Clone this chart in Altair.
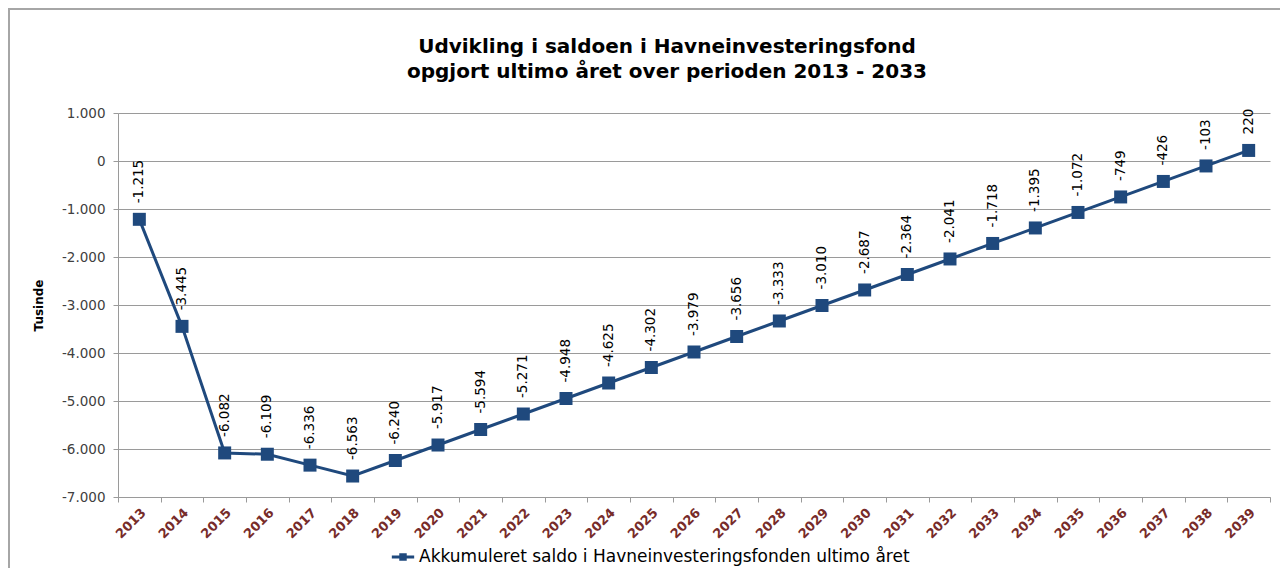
import altair as alt
import pandas as pd

years = list(range(2013, 2040))
values = [-1215, -3445, -6082, -6109, -6336, -6563, -6240, -5917, -5594, -5271,
          -4948, -4625, -4302, -3979, -3656, -3333, -3010, -2687, -2364, -2041,
          -1718, -1395, -1072, -749, -426, -103, 220]
series_name = "Akkumuleret saldo i Havneinvesteringsfonden ultimo året"
title_lines = ["Udvikling i saldoen i Havneinvesteringsfond",
               "opgjort ultimo året over perioden 2013 - 2033"]
y_ticks = list(range(-7000, 1001, 1000))

df = pd.DataFrame({"year": years, "value": values, "series": [series_name] * len(years)})

FONT = "DejaVu Sans"
BLUE = "#1F497D"
GRID = "#9A9A9A"
NUMFMT = "replace(replace(format({v}, ','), ',', '.'), '\u2212', '-')"

edge_ticks = [y - 0.5 for y in years] + [years[-1] + 0.5]

x_enc = alt.X(
    "year:Q",
    scale=alt.Scale(domain=[years[0] - 0.5, years[-1] + 0.5], nice=False, zero=False),
    axis=alt.Axis(
        values=edge_ticks,
        labelExpr=f"datum.value < {years[-1]} ? format(datum.value + 0.5, 'd') : ''",
        labelOffset=21,
        labelAngle=-45,
        labelAlign="right",
        labelBaseline="top",
        labelFont=FONT,
        labelFontSize=13,
        labelFontWeight="bold",
        labelColor="#772C2A",
        labelPadding=4,
        labelOverlap=False,
        labelBound=False,
        labelFlush=False,
        grid=False,
        domainColor=GRID,
        tickColor=GRID,
        tickSize=5,
        title=None,
    ),
)

y_enc = alt.Y(
    "value:Q",
    scale=alt.Scale(domain=[-7000, 1000], nice=False),
    axis=alt.Axis(
        values=y_ticks,
        labelExpr=NUMFMT.format(v="datum.value"),
        labelFont=FONT,
        labelFontSize=13.5,
        labelColor="#404040",
        labelPadding=8,
        tickSize=5,
        tickColor=GRID,
        domainColor=GRID,
        gridColor=GRID,
        gridWidth=1,
        title="Tusinde",
        titleFont=FONT,
        titleFontSize=12,
        titleFontWeight="bold",
        titleColor="#000000",
        titlePadding=16,
    ),
)

color_enc = alt.Color(
    "series:N",
    scale=alt.Scale(range=[BLUE]),
    legend=alt.Legend(
        title=None,
        orient="none",
        legendX=272,
        legendY=431,
        symbolType="M-1,0L1,0M-0.2,-0.2L0.2,-0.2L0.2,0.2L-0.2,0.2Z",
        symbolSize=500,
        symbolFillColor=BLUE,
        symbolStrokeColor=BLUE,
        symbolStrokeWidth=3,
        labelFont=FONT,
        labelFontSize=17,
        labelColor="#000000",
        labelLimit=800,
        labelOffset=3,
    ),
)

base = alt.Chart(df)

line = base.mark_line(strokeWidth=3).encode(x=x_enc, y=y_enc, color=color_enc)
points = base.mark_square(size=169, opacity=1, filled=True).encode(
    x="year:Q", y="value:Q", color=alt.Color("series:N", legend=None)
)
labels = base.transform_calculate(
    lab=NUMFMT.format(v="datum.value")
).mark_text(
    angle=270, align="left", baseline="middle", dx=16, font=FONT, fontSize=13.5, color="#000000"
).encode(x="year:Q", y="value:Q", text="lab:N")

frame_df = pd.DataFrame({"k": [0]})
frame_left = alt.Chart(frame_df).mark_rule(color="#A6A6A6", strokeWidth=2).encode(
    x=alt.value(-109), y=alt.value(-104), y2=alt.value(470)
)
frame_top = alt.Chart(frame_df).mark_rule(color="#A6A6A6", strokeWidth=2).encode(
    x=alt.value(-110), x2=alt.value(1170), y=alt.value(-104)
)

chart = alt.layer(frame_left, frame_top, line, points, labels).properties(
    width=1152,
    height=384,
    autosize=alt.AutoSizeParams(type="none"),
    padding={"left": 110, "top": 105, "right": 10, "bottom": 71},
    title=alt.TitleParams(
        text=title_lines,
        font=FONT,
        fontSize=20,
        fontWeight="bold",
        color="#000000",
        anchor="middle",
        dx=-27,
        offset=-74,
        lineHeight=25,
    ),
).configure_view(stroke=None)

chart.save("out.html", embed_options={"renderer": "svg", "actions": False})
